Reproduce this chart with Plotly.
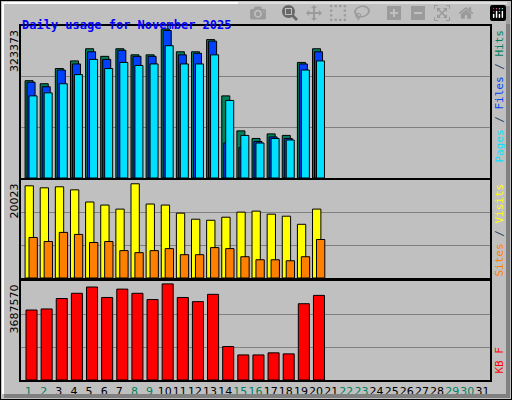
import plotly.graph_objects as go

days = list(range(1, 21))
all_days = list(range(1, 32))
weekend = [1, 2, 8, 9, 15, 16, 22, 23, 29, 30]

max_hits = 323373
hits_frac = [0.64, 0.62, 0.72, 0.77, 0.85, 0.80, 0.85, 0.81, 0.81, 0.98, 0.83, 0.83, 0.91, 0.54, 0.31, 0.26, 0.29, 0.28, 0.76, 0.85]
files_frac = [0.63, 0.60, 0.71, 0.75, 0.83, 0.78, 0.84, 0.80, 0.80, 0.97, 0.81, 0.82, 0.90, 0.23, 0.20, 0.24, 0.27, 0.26, 0.75, 0.83]
pages_frac = [0.54, 0.56, 0.62, 0.68, 0.78, 0.72, 0.76, 0.74, 0.75, 0.87, 0.75, 0.75, 0.81, 0.51, 0.28, 0.23, 0.26, 0.25, 0.71, 0.77]
hits = [round(f / 0.98 * max_hits) for f in hits_frac]
files = [round(f / 0.98 * max_hits) for f in files_frac]
pages = [round(f / 0.98 * max_hits) for f in pages_frac]

max_visits = 20023
visits_top = [186, 188, 187, 190, 202, 205, 209, 184, 204, 205, 213, 219, 220, 217, 212, 211, 214, 216, 224, 209]
sites_top = [237, 241, 232, 234, 242, 241, 250, 252, 250, 248, 254, 254, 247, 248, 256, 259, 259, 260, 256, 239]
visits = [round((277 - y) / 93 * max_visits) for y in visits_top]
sites = [round((277 - y) / 93 * max_visits) for y in sites_top]

max_kb = 3687570
kb_top = [309, 308, 298, 293, 287, 297, 289, 293, 299, 284, 297, 301, 294, 344, 352, 352, 350, 351, 303, 295]
kbytes = [round((376 - y) / 92 * max_kb) for y in kb_top]

fig = go.Figure()
line = dict(color="black", width=1)

def bar(y, color, off, w, ax):
    fig.add_trace(go.Bar(x=days, y=y, marker=dict(color=color, line=line),
                         offset=off, width=w, xaxis="x" + ax, yaxis="y" + ax))

bar(hits, "#00805c", -0.23, 0.53, "")
bar(files, "#0040ff", -0.1, 0.53, "")
bar(pages, "#00e0ff", 0.03, 0.53, "")
bar(visits, "#ffff00", -0.23, 0.55, "2")
bar(sites, "#ff8000", 0.03, 0.55, "2")
bar(kbytes, "#ff0000", -0.17, 0.73, "3")

xd = [21 / 512, 490 / 512]
xax = dict(range=[0.5, 31.5], domain=xd, showline=True, mirror=True, linecolor="black",
           linewidth=2, showgrid=False, ticks="", showticklabels=False, zeroline=False)
ticktext = ["<span style='color:%s'>%d</span>" % ("#00805c" if d in weekend else "black", d) for d in all_days]

def yax(top, dom, anchor):
    return dict(range=[0, top], domain=dom, anchor=anchor, showline=True, mirror=True,
                linecolor="black", linewidth=2, tickvals=[top / 3, 2 * top / 3],
                showticklabels=False, ticks="", gridcolor="#808080", gridwidth=1, zeroline=False)

fig.update_layout(
    width=512, height=400, margin=dict(l=0, r=0, t=0, b=0, autoexpand=False),
    paper_bgcolor="#c0c0c0", plot_bgcolor="#c0c0c0", showlegend=False, barmode="overlay",
    xaxis=dict(xax, anchor="y"),
    xaxis2=dict(xax, anchor="y2"),
    xaxis3=dict(xax, anchor="y3", showticklabels=True, tickvals=all_days, ticktext=ticktext,
                tickangle=0, automargin=False, ticklen=0,
                tickfont=dict(family="DejaVu Sans", size=11)),
    yaxis=yax(max_hits * 1.02, [1 - 178 / 400, 1 - 26 / 400], "x"),
    yaxis2=yax(max_visits * 1.04, [1 - 278 / 400, 1 - 180 / 400], "x2"),
    yaxis3=yax(max_kb * 1.03, [1 - 380 / 400, 1 - 281 / 400], "x3"),
    font=dict(family="DejaVu Sans"),
)

ann = [
    dict(x=20 / 512, y=1 - 16 / 400, text="<b>Daily usage for November 2025</b>", xanchor="left",
         font=dict(family="DejaVu Sans Mono", size=12, color="#0000ff")),
    dict(x=14 / 512, y=1 - 28 / 400, text="323373", textangle=-90, yanchor="top",
         font=dict(size=11, color="black")),
    dict(x=14 / 512, y=1 - 182 / 400, text="20023", textangle=-90, yanchor="top",
         font=dict(size=11, color="black")),
    dict(x=14 / 512, y=1 - 283 / 400, text="3687570", textangle=-90, yanchor="top",
         font=dict(size=11, color="black")),
    dict(x=499 / 512, y=1 - 28 / 400, yanchor="top", textangle=-90,
         text="<span style='color:#00e0ff'>Pages</span> / <span style='color:#0040ff'>Files</span> / <span style='color:#00805c'>Hits</span>",
         font=dict(family="DejaVu Sans Mono", size=11)),
    dict(x=499 / 512, y=1 - 182 / 400, yanchor="top", textangle=-90,
         text="<span style='color:#ff8000'>Sites</span> / <span style='color:#ffff00'>Visits</span>",
         font=dict(family="DejaVu Sans Mono", size=11)),
    dict(x=499 / 512, y=1 - 376 / 400, yanchor="bottom", textangle=-90,
         text="<span style='color:#ff0000'>KB F</span>",
         font=dict(family="DejaVu Sans Mono", size=11)),
]
for a in ann:
    a.update(xref="paper", yref="paper", showarrow=False)
    if "xanchor" not in a:
        a["xanchor"] = "center"
fig.update_layout(annotations=ann)

shapes = [
    dict(type="rect", x0=0, x1=1, y0=0, y1=1, line=dict(color="black", width=2)),
    dict(type="line", x0=2 / 512, x1=507 / 512, y0=1 - 3 / 400, y1=1 - 3 / 400, line=dict(color="white", width=2)),
    dict(type="line", x0=3 / 512, x1=3 / 512, y0=6 / 400, y1=1 - 3 / 400, line=dict(color="white", width=2)),
    dict(type="line", x0=508 / 512, x1=508 / 512, y0=4 / 400, y1=1 - 6 / 400, line=dict(color="#808080", width=4)),
    dict(type="line", x0=4 / 512, x1=510 / 512, y0=4 / 400, y1=4 / 400, line=dict(color="#808080", width=4)),
]
for s in shapes:
    s.update(xref="paper", yref="paper")
fig.update_layout(shapes=shapes)

fig.write_html("out.html", post_script="document.body.style.margin='0';document.body.style.overflow='hidden';")
